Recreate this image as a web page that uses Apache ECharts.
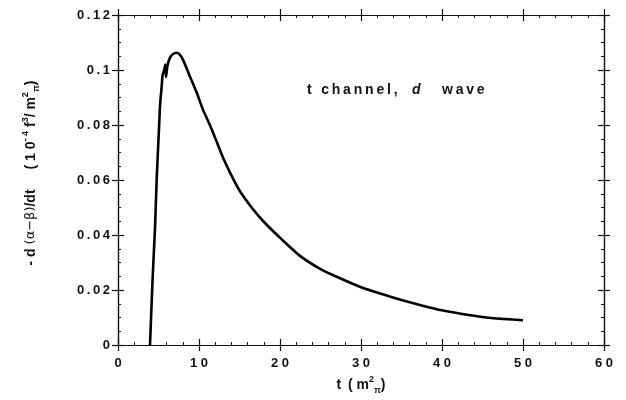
<!DOCTYPE html>
<html>
<head>
<meta charset="utf-8">
<script src="https://cdn.jsdelivr.net/npm/echarts@6/dist/echarts.min.js"></script>
<style>html,body{margin:0;padding:0;background:#fff}#c{width:626px;height:400px}</style>
</head>
<body>
<div id="c"></div>
<script>
// Data
var tValues = [3.95, 4.28, 4.57, 4.78, 5.06, 5.19, 5.4, 5.5, 5.7, 5.85, 5.93, 6.1, 6.42, 6.8, 7.2, 7.6, 8.06, 8.9, 9.7, 10.5, 11.36, 12.2, 13.0, 14.0, 15.06, 16.5, 17.94, 20, 22.47, 25, 27, 30, 32.5, 35, 37.5, 40, 42.5, 45, 47.5, 50];
var dValues = [0, 0.0246, 0.0426, 0.0607, 0.0787, 0.0871, 0.0943, 0.098, 0.1, 0.102, 0.0975, 0.1015, 0.1045, 0.1058, 0.1063, 0.1057, 0.1035, 0.0975, 0.0919, 0.0855, 0.0799, 0.0738, 0.0679, 0.0617, 0.0559, 0.05, 0.045, 0.039, 0.0324, 0.0276, 0.0248, 0.021, 0.0186, 0.0164, 0.0144, 0.0126, 0.0113, 0.0102, 0.0095, 0.009];
var xTickLabels = ['0', '1 0', '2 0', '3 0', '4 0', '5 0', '6 0'];
var yTickLabels = ['0', '0.02', '0.04', '0.06', '0.08', '0.1', '0.12'];

var lineData = tValues.map(function (t, i) { return [t, dValues[i]]; });
var FONT = 'Liberation Sans';
var INK = '#111';

function spaced(s) { return s.split('').join('\u2009'); }

function xAx(pos, inside, show) {
  return {
    type: 'value', min: 0, max: 60, interval: 10, position: pos,
    axisLine: { show: true, onZero: false, lineStyle: { color: INK, width: 1.2 } },
    axisTick: { show: true, inside: inside, length: 6, lineStyle: { color: INK, width: 1.2 } },
    minorTick: { show: inside, splitNumber: 5, length: 3, lineStyle: { color: INK, width: 1 } },
    splitLine: { show: false },
    axisLabel: { show: show, margin: 12, color: INK, fontFamily: FONT, fontWeight: 'bold', fontSize: 13,
      formatter: function (v) { return xTickLabels[Math.round(v / 10)]; } }
  };
}
function yAx(pos, inside, show) {
  return {
    type: 'value', min: 0, max: 0.12, interval: 0.02, position: pos,
    axisLine: { show: true, onZero: false, lineStyle: { color: INK, width: 1.2 } },
    axisTick: { show: true, inside: inside, length: 6, lineStyle: { color: INK, width: 1.2 } },
    minorTick: { show: inside, splitNumber: 4, length: 3, lineStyle: { color: INK, width: 1 } },
    splitLine: { show: false },
    axisLabel: { show: show, margin: 8, color: INK, fontFamily: FONT, fontWeight: 'bold', fontSize: 13,
      formatter: function (v) { return spaced(yTickLabels[Math.round(v / 0.02)]); } }
  };
}

var xAxes = [xAx('bottom', true, true), xAx('bottom', false, false), xAx('top', true, false), xAx('top', false, false)];
xAxes[0].name = '{a|t}  {a|( m}{sup|2}{sub|π}{a|)}';
xAxes[0].nameLocation = 'middle';
xAxes[0].nameGap = 30;
xAxes[0].nameTextStyle = {
  rich: {
    a: { fontFamily: FONT, fontWeight: 'bold', fontSize: 14, color: INK, lineHeight: 20 },
    sup: { fontFamily: FONT, fontWeight: 'bold', fontSize: 9, color: INK, verticalAlign: 'top', lineHeight: 9 },
    sub: { fontFamily: FONT, fontWeight: 'bold', fontSize: 9, color: INK, verticalAlign: 'bottom', lineHeight: 9 }
  }
};
var yAxes = [yAx('left', true, true), yAx('left', false, false), yAx('right', true, false), yAx('right', false, false)];

function noteText(x, txt, italic) {
  return {
    type: 'text', x: x, y: 90,
    style: {
      text: spaced(txt), verticalAlign: 'middle', align: 'left',
      fontFamily: FONT, fontWeight: 'bold', fontStyle: italic ? 'italic' : 'normal', fontSize: 14, fill: INK
    }
  };
}

var chart = echarts.init(document.getElementById('c'), null, { renderer: 'canvas' });
chart.setOption({
  backgroundColor: '#fff',
  animation: false,
  grid: { left: 118, right: 22, top: 15, bottom: 52, containLabel: false },
  xAxis: xAxes,
  yAxis: yAxes,
  graphic: [
    noteText(307, 't channel,', false),
    noteText(412, 'd', true),
    noteText(442, 'wave', false),
    {
      type: 'text', x: 31, y: 173, rotation: Math.PI / 2,
      style: {
        text: '{a|- d }{g|(α−β)}{a|/dt}      {a|( 1 0}{sup|- 4}{a| f}{sup|3}{a|/ m}{sup|2}{sub|π}{a|)}',
        align: 'center', verticalAlign: 'middle',
        rich: {
          a: { fontFamily: FONT, fontWeight: 'bold', fontSize: 14, fill: INK, lineHeight: 20 },
          g: { fontFamily: 'DejaVu Sans', fontSize: 13, fill: INK, lineHeight: 20 },
          sup: { fontFamily: FONT, fontWeight: 'bold', fontSize: 9, fill: INK, verticalAlign: 'top', lineHeight: 9 },
          sub: { fontFamily: FONT, fontWeight: 'bold', fontSize: 9, fill: INK, verticalAlign: 'bottom', lineHeight: 9 }
        }
      }
    }
  ],
  series: [{
    type: 'line', xAxisIndex: 0, yAxisIndex: 0, data: lineData,
    showSymbol: false, smooth: 0.2, clip: true,
    lineStyle: { color: '#000', width: 2.6 }
  }]
});
</script>
</body>
</html>
